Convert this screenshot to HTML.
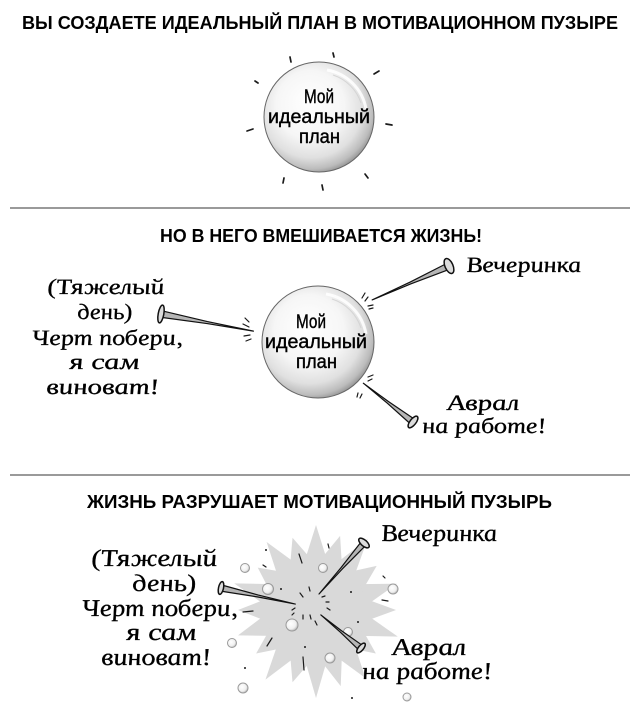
<!DOCTYPE html>
<html><head><meta charset="utf-8"><style>
html,body{margin:0;padding:0;background:#fff;}
svg{display:block;}
.h{font-family:"Liberation Sans",sans-serif;font-weight:bold;font-size:18px;fill:#000;}
.b{font-family:"Liberation Sans",sans-serif;font-size:19px;fill:#000;stroke:#000;stroke-width:0.4;}
.w{font-family:"Liberation Serif",serif;font-style:italic;font-size:22px;fill:#000;stroke:#000;stroke-width:0.3;}
.w2{font-family:"Liberation Serif",serif;font-style:italic;font-size:24px;fill:#000;stroke:#000;stroke-width:0.3;}
.r{stroke:#1a1a1a;stroke-width:1.7;stroke-linecap:round;fill:none;}
.m{stroke:#1a1a1a;stroke-width:1.2;stroke-linecap:round;fill:none;}
</style></head><body>
<svg width="640" height="712" viewBox="0 0 640 712">
<defs>
<radialGradient id="bub" cx="0.44" cy="0.42" r="0.62" fx="0.4" fy="0.36">
<stop offset="0" stop-color="#ffffff"/>
<stop offset="0.5" stop-color="#f6f6f6"/>
<stop offset="0.75" stop-color="#e0e0e0"/>
<stop offset="0.9" stop-color="#bcbcbc"/>
<stop offset="1" stop-color="#858585"/>
</radialGradient>
<radialGradient id="sb" cx="0.4" cy="0.4" r="0.6">
<stop offset="0" stop-color="#ffffff"/>
<stop offset="0.7" stop-color="#f0f0f0"/>
<stop offset="1" stop-color="#bdbdbd"/>
</radialGradient>
</defs>

<!-- Headers -->
<text class="h" x="22" y="29" textLength="596" lengthAdjust="spacingAndGlyphs">ВЫ СОЗДАЕТЕ ИДЕАЛЬНЫЙ ПЛАН В МОТИВАЦИОННОМ ПУЗЫРЕ</text>
<rect x="10" y="207" width="620" height="2" fill="#9a9a9a"/>
<text class="h" x="160" y="242" textLength="322" lengthAdjust="spacingAndGlyphs">НО В НЕГО ВМЕШИВАЕТСЯ ЖИЗНЬ!</text>
<rect x="10" y="474" width="620" height="2" fill="#9a9a9a"/>
<text class="h" x="87" y="508" textLength="465" lengthAdjust="spacingAndGlyphs">ЖИЗНЬ РАЗРУШАЕТ МОТИВАЦИОННЫЙ ПУЗЫРЬ</text>

<!-- Section 1 bubble -->
<g class="r">
<line x1="290" y1="57" x2="291" y2="62"/>
<line x1="333" y1="53" x2="334" y2="57"/>
<line x1="374" y1="74" x2="379" y2="71"/>
<line x1="255" y1="81" x2="258" y2="83"/>
<line x1="386" y1="124" x2="392" y2="125"/>
<line x1="247" y1="131" x2="253" y2="129"/>
<line x1="365" y1="174" x2="368" y2="178"/>
<line x1="284" y1="178" x2="283" y2="183"/>
<line x1="322" y1="185" x2="323" y2="190"/>
</g>
<g transform="translate(319,117)">
<circle r="55" fill="url(#bub)" stroke="#666" stroke-width="1"/>
<path d="M 8,-47 A 48 48 0 0 1 47,-8" fill="none" stroke="#fff" stroke-width="3" opacity="0.85"/>
<path d="M 14,-42 A 44 44 0 0 1 42,-14" fill="none" stroke="#cfcfcf" stroke-width="1" opacity="0.8"/>
</g>
<text class="b" x="304" y="103" textLength="30" lengthAdjust="spacingAndGlyphs">Мой</text>
<text class="b" x="268" y="123" textLength="102" lengthAdjust="spacingAndGlyphs">идеальный</text>
<text class="b" x="299" y="143" textLength="41" lengthAdjust="spacingAndGlyphs">план</text>

<!-- Section 2 bubble -->
<g transform="translate(318,342)">
<circle r="56" fill="url(#bub)" stroke="#666" stroke-width="1"/>
<path d="M 8,-48 A 49 49 0 0 1 48,-8" fill="none" stroke="#fff" stroke-width="3" opacity="0.85"/>
<path d="M 14,-43 A 45 45 0 0 1 43,-14" fill="none" stroke="#cfcfcf" stroke-width="1" opacity="0.8"/>
</g>
<text class="b" x="296" y="328" textLength="30" lengthAdjust="spacingAndGlyphs">Мой</text>
<text class="b" x="265" y="348" textLength="102" lengthAdjust="spacingAndGlyphs">идеальный</text>
<text class="b" x="296" y="368" textLength="41" lengthAdjust="spacingAndGlyphs">план</text>

<!-- Section 2 impact marks -->
<g class="m">
<line x1="245" y1="318" x2="249" y2="322"/>
<line x1="243" y1="324" x2="249" y2="327"/>
<line x1="244" y1="336" x2="250" y2="335"/>
<line x1="246" y1="341" x2="251" y2="339"/>
<line x1="362" y1="298" x2="365" y2="293"/>
<line x1="365" y1="301" x2="368" y2="297"/>
<line x1="368" y1="306" x2="373" y2="305"/>
<line x1="369" y1="309" x2="373" y2="308"/>
<line x1="368" y1="377" x2="373" y2="375"/>
<line x1="368" y1="381" x2="372" y2="379"/>
<line x1="357" y1="397" x2="358" y2="393"/>
<line x1="360" y1="398" x2="362" y2="394"/>
</g>

<!-- Section 2 pins -->
<g transform="translate(161,314) rotate(10.5)">
<polygon points="2,-3.2 47,-1 94,0 47,1 2,3.2" fill="#b5b5b5" stroke="#111" stroke-width="1.2" stroke-linejoin="round"/>
<ellipse cx="0" cy="0" rx="2.8" ry="9" fill="#dcdcdc" stroke="#111" stroke-width="1.5"/>
</g>
<g transform="translate(449,266) rotate(156.2)">
<polygon points="2,-3.2 42,-1 84,0 42,1 2,3.2" fill="#b5b5b5" stroke="#111" stroke-width="1.2" stroke-linejoin="round"/>
<ellipse cx="0" cy="0" rx="4" ry="8" fill="#dcdcdc" stroke="#111" stroke-width="1.5"/>
</g>
<g transform="translate(413,422) rotate(-142)">
<polygon points="2,-3 32,-1 63,0 32,1 2,3" fill="#b5b5b5" stroke="#111" stroke-width="1.2" stroke-linejoin="round"/>
<ellipse cx="0" cy="0" rx="3" ry="7" fill="#dcdcdc" stroke="#111" stroke-width="1.5"/>
</g>

<!-- Section 2 labels -->
<text class="w" transform="translate(48,294) skewX(8)" textLength="117" lengthAdjust="spacingAndGlyphs">(Тяжелый</text>
<text class="w" transform="translate(78,319) skewX(8)" textLength="55" lengthAdjust="spacingAndGlyphs">день)</text>
<text class="w" transform="translate(32,345) skewX(8)" textLength="151" lengthAdjust="spacingAndGlyphs">Черт побери,</text>
<text class="w" transform="translate(70,369) skewX(8)" textLength="70" lengthAdjust="spacingAndGlyphs">я сам</text>
<text class="w" transform="translate(47,394) skewX(8)" textLength="113" lengthAdjust="spacingAndGlyphs">виноват!</text>
<text class="w" transform="translate(467,272) skewX(8)" textLength="115" lengthAdjust="spacingAndGlyphs">Вечеринка</text>
<text class="w" transform="translate(448,410) skewX(8)" textLength="72" lengthAdjust="spacingAndGlyphs">Аврал</text>
<text class="w" transform="translate(423,433) skewX(8)" textLength="124" lengthAdjust="spacingAndGlyphs">на работе!</text>

<!-- Section 3 splat -->
<g transform="translate(316,610)" fill="#d9d9d9">
<circle r="56"/>
<polygon points="-11,-50 11,-50 0,-85"/>
<polygon points="-11,-50 11,-50 0,-78" transform="rotate(18)"/>
<polygon points="-11,-50 11,-50 0,-88" transform="rotate(36)"/>
<polygon points="-11,-50 11,-50 0,-75" transform="rotate(54)"/>
<polygon points="-11,-50 11,-50 0,-85" transform="rotate(72)"/>
<polygon points="-11,-50 11,-50 0,-80" transform="rotate(90)"/>
<polygon points="-11,-50 11,-50 0,-86" transform="rotate(108)"/>
<polygon points="-11,-50 11,-50 0,-74" transform="rotate(126)"/>
<polygon points="-11,-50 11,-50 0,-84" transform="rotate(144)"/>
<polygon points="-11,-50 11,-50 0,-80" transform="rotate(162)"/>
<polygon points="-11,-50 11,-50 0,-88" transform="rotate(180)"/>
<polygon points="-11,-50 11,-50 0,-76" transform="rotate(198)"/>
<polygon points="-11,-50 11,-50 0,-86" transform="rotate(216)"/>
<polygon points="-11,-50 11,-50 0,-74" transform="rotate(234)"/>
<polygon points="-11,-50 11,-50 0,-82" transform="rotate(252)"/>
<polygon points="-11,-50 11,-50 0,-78" transform="rotate(270)"/>
<polygon points="-11,-50 11,-50 0,-86" transform="rotate(288)"/>
<polygon points="-11,-50 11,-50 0,-72" transform="rotate(306)"/>
<polygon points="-11,-50 11,-50 0,-84" transform="rotate(324)"/>
<polygon points="-11,-50 11,-50 0,-76" transform="rotate(342)"/>
</g>

<!-- Section 3 small bubbles -->
<g stroke="#9a9a9a" stroke-width="1" fill="url(#sb)">
<circle cx="245" cy="568" r="4.5"/>
<circle cx="268" cy="589" r="5.5"/>
<circle cx="323" cy="568" r="4.5"/>
<circle cx="393" cy="589" r="5"/>
<circle cx="292" cy="625" r="6"/>
<circle cx="348" cy="632" r="4.5"/>
<circle cx="232" cy="643" r="4.5"/>
<circle cx="330" cy="658" r="5"/>
<circle cx="243" cy="688" r="5"/>
<circle cx="407" cy="697" r="4"/>
</g>

<!-- Section 3 dashes and dots -->
<g class="m">
<line x1="309" y1="587" x2="310" y2="591"/>
<line x1="300" y1="593" x2="303" y2="597"/>
<line x1="322" y1="597" x2="325" y2="596"/>
<line x1="326" y1="602" x2="329" y2="602"/>
<line x1="327" y1="608" x2="330" y2="610"/>
<line x1="292" y1="610" x2="295" y2="608"/>
<line x1="292" y1="615" x2="294" y2="613"/>
<line x1="303" y1="615" x2="303" y2="619"/>
<line x1="310" y1="615" x2="311" y2="619"/>
<line x1="315" y1="621" x2="317" y2="625"/>
<line x1="299" y1="554" x2="302" y2="563"/>
<line x1="328" y1="544" x2="329" y2="548"/>
<line x1="263" y1="565" x2="266" y2="567"/>
<line x1="383" y1="576" x2="385" y2="578"/>
<line x1="382" y1="600" x2="388" y2="601"/>
<line x1="253" y1="611" x2="243" y2="612"/>
<line x1="272" y1="638" x2="267" y2="646"/>
<line x1="303" y1="657" x2="304" y2="670"/>
</g>
<g fill="#1a1a1a">
<circle cx="281" cy="589" r="1"/>
<circle cx="266" cy="550" r="1"/>
<circle cx="351" cy="592" r="1"/>
<circle cx="358" cy="622" r="1"/>
<circle cx="305" cy="647" r="1"/>
<circle cx="245" cy="668" r="1"/>
<circle cx="352" cy="698" r="1"/>
</g>

<!-- Section 3 pins -->
<g transform="translate(221,588) rotate(12.2)">
<polygon points="2,-3 38,-1 76,0 38,1 2,3" fill="#b5b5b5" stroke="#111" stroke-width="1.2" stroke-linejoin="round"/>
<ellipse cx="0" cy="0" rx="2.5" ry="6.5" fill="#dcdcdc" stroke="#111" stroke-width="1.5"/>
</g>
<g transform="translate(364,543) rotate(131.4)">
<polygon points="2,-2.8 34,-0.9 68,0 34,0.9 2,2.8" fill="#b5b5b5" stroke="#111" stroke-width="1.2" stroke-linejoin="round"/>
<ellipse cx="0" cy="0" rx="3" ry="6.5" fill="#dcdcdc" stroke="#111" stroke-width="1.5"/>
</g>
<g transform="translate(361,648) rotate(-140.5)">
<polygon points="2,-2.8 26,-0.9 52,0 26,0.9 2,2.8" fill="#b5b5b5" stroke="#111" stroke-width="1.2" stroke-linejoin="round"/>
<ellipse cx="0" cy="0" rx="2.5" ry="6" fill="#dcdcdc" stroke="#111" stroke-width="1.5"/>
</g>

<!-- Section 3 labels -->
<text class="w2" transform="translate(92,566) skewX(8)" textLength="126" lengthAdjust="spacingAndGlyphs">(Тяжелый</text>
<text class="w2" transform="translate(133,591) skewX(8)" textLength="64" lengthAdjust="spacingAndGlyphs">день)</text>
<text class="w2" transform="translate(82,616) skewX(8)" textLength="156" lengthAdjust="spacingAndGlyphs">Черт побери,</text>
<text class="w2" transform="translate(127,640) skewX(8)" textLength="70" lengthAdjust="spacingAndGlyphs">я сам</text>
<text class="w2" transform="translate(102,665) skewX(8)" textLength="110" lengthAdjust="spacingAndGlyphs">виноват!</text>
<text class="w2" transform="translate(382,541) skewX(8)" textLength="116" lengthAdjust="spacingAndGlyphs">Вечеринка</text>
<text class="w2" transform="translate(393,655) skewX(8)" textLength="74" lengthAdjust="spacingAndGlyphs">Аврал</text>
<text class="w2" transform="translate(363,679) skewX(8)" textLength="130" lengthAdjust="spacingAndGlyphs">на работе!</text>
</svg>
</body></html>
